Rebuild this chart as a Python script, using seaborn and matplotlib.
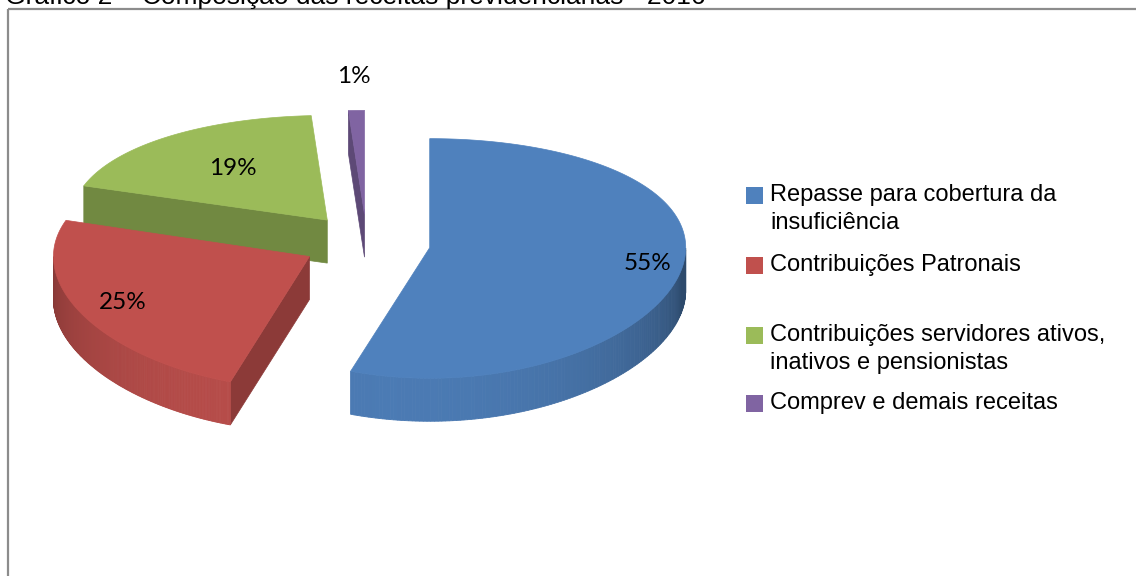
import numpy as np
import matplotlib
matplotlib.use("Agg")
import matplotlib.pyplot as plt
from matplotlib.patches import Polygon, Rectangle
from matplotlib.colors import to_rgb
import seaborn as sns

# ---- data -------------------------------------------------------------
categories = [
    "Repasse para cobertura da\ninsuficiência",
    "Contribuições Patronais",
    "Contribuições servidores ativos,\ninativos e pensionistas",
    "Comprev e demais receitas",
]
shares = [55, 25, 19, 1]
pct_labels = ["55%", "25%", "19%", "1%"]
title = "Gráfico 2 – Composição das receitas previdenciárias - 2016"

# ---- style ------------------------------------------------------------
sns.set_theme(style="white")
palette = sns.color_palette(["#4F81BD", "#C0504D", "#9BBB59", "#8064A2"])

W, H, DPI = 1136, 576, 100
fig = plt.figure(figsize=(W / DPI, H / DPI), dpi=DPI)
ax = fig.add_axes([0, 0, 1, 1])
ax.set_xlim(0, W)
ax.set_ylim(H, 0)
ax.axis("off")

# 3D pie geometry (screen pixels)
OX, OY = 366.5, 243.0      # projected pie centre
RX = 256.0                  # horizontal radius
A, C = 118.0, 0.09          # vertical foreshortening with a bit of perspective
DEPTH = 43.0                # thickness of the pie
EXPLODE = 0.25              # explosion, fraction of radius
label_radius = [0.86, 0.82, 0.60, 1.37]


def proj(X, Y, z=0.0):
    X = np.asarray(X, float)
    Y = np.asarray(Y, float)
    sx = OX + X * RX
    sy = OY - A * Y / (1 + C * Y) + z * DEPTH
    return np.column_stack([np.atleast_1d(sx), np.atleast_1d(sy)])


def shade(color, f):
    r, g, b = to_rgb(color)
    return (r * f, g * f, b * f)


total = float(sum(shares))
slices = []
start = 90.0
for val, col in zip(shares, palette):
    sweep = val / total * 360.0
    t_hi = start
    t_lo = start - sweep            # drawn clockwise
    mid = np.radians((t_hi + t_lo) / 2)
    apex = (EXPLODE * np.cos(mid), EXPLODE * np.sin(mid))
    slices.append(dict(t_lo=t_lo, t_hi=t_hi, mid=mid, apex=apex, color=col))
    start = t_lo

# paint from back to front
order = sorted(range(len(slices)), key=lambda i: -slices[i]["apex"][1])

for i in order:
    s = slices[i]
    ax0, ay0 = s["apex"]
    col = s["color"]
    th = np.radians(np.linspace(s["t_lo"], s["t_hi"], 240))
    rimX = ax0 + np.cos(th)
    rimY = ay0 + np.sin(th)

    # flat radial faces
    for t, sign in ((s["t_hi"], +1), (s["t_lo"], -1)):
        n = np.radians(t + sign * 90.0)
        if np.sin(n) < -1e-6:
            tr = np.radians(t)
            ex, ey = ax0 + np.cos(tr), ay0 + np.sin(tr)
            pts = np.vstack([proj(ax0, ay0, 0), proj(ex, ey, 0),
                             proj(ex, ey, 1), proj(ax0, ay0, 1)])
            c = shade(col, 0.73)
            ax.add_patch(Polygon(pts, closed=True, fc=c, ec=c, lw=0.5))

    # curved outer wall, shaded strip by strip
    for k in range(len(th) - 1):
        m = 0.5 * (th[k] + th[k + 1])
        if np.sin(m) >= 0:
            continue
        top = proj(rimX[k:k + 2], rimY[k:k + 2], 0)
        bot = proj(rimX[k:k + 2][::-1], rimY[k:k + 2][::-1], 1)
        f = 0.57 + 0.38 * max(0.0, np.cos(m - np.radians(-100))) ** 0.7
        c = shade(col, f)
        ax.add_patch(Polygon(np.vstack([top, bot]), closed=True, fc=c, ec=c, lw=0.6))

    # top face
    pts = np.vstack([proj(ax0, ay0, 0), proj(rimX, rimY, 0)])
    ax.add_patch(Polygon(pts, closed=True, fc=col, ec=col, lw=0.5))

# percentage labels
for s, lab, r in zip(slices, pct_labels, label_radius):
    X = s["apex"][0] + r * np.cos(s["mid"])
    Y = s["apex"][1] + r * np.sin(s["mid"])
    px, py = proj(X, Y, 0)[0]
    ax.text(px, py, lab, ha="center", va="center", fontsize=17.5,
            family=["Lato", "DejaVu Sans"], color="black")

# legend
leg_font = ["Liberation Sans", "DejaVu Sans"]
marker_y = [195, 265, 335, 403]
for lab, col, my in zip(categories, palette, marker_y):
    ax.add_patch(Rectangle((746, my - 8.5), 17, 17, fc=col, ec="none"))
    lines = lab.split("\n")
    for j, line in enumerate(lines):
        ax.text(770, my + j * 28, line, ha="left", va="center",
                fontsize=17, family=leg_font, color="black")

# chart frame and caption above it
ax.add_patch(Rectangle((8, 8.5), W + 20, H + 20, fill=False, ec="#8c8c8c", lw=1.6))
ax.text(5, 4, title, ha="left", va="baseline", fontsize=19,
        family=leg_font, color="black")

fig.savefig("out.png", dpi=DPI)
